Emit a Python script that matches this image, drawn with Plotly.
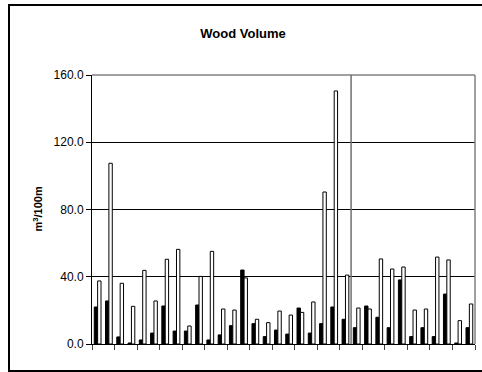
import plotly.graph_objects as go

categories = [str(i) for i in range(1, 35)]
series_a = [22.0, 25.6, 4.2, 0.6, 2.4, 6.5, 22.6, 7.7, 7.7, 23.2, 2.4, 5.4, 10.9, 44.0, 12.1, 4.4, 8.3,
            5.9, 21.4, 6.5, 12.1, 22.0, 14.7, 9.7, 22.6, 15.9, 9.7, 38.1, 4.4, 9.7, 4.4, 29.7, 0.6, 9.7]
series_b = [37.5, 107.5, 36.1, 22.4, 43.8, 25.6, 50.4, 56.3, 10.7, 40.2, 55.1, 20.8, 20.2, 39.3, 14.7, 12.7, 19.6,
            17.2, 18.8, 25.0, 90.4, 150.5, 41.0, 21.4, 20.8, 50.6, 44.6, 45.8, 20.2, 20.8, 51.7, 50.0, 13.9, 23.8]
y_ticks = [0, 40, 80, 120, 160]
y_tick_labels = ["0.0", "40.0", "80.0", "120.0", "160.0"]

W, H = 482, 372
L, R, T, B = 92, 7, 75, 28
pw, ph = W - L - R, H - T - B

def px_x(p):
    return (p - L) / pw

def px_y(p):
    return (H - B - p) / ph

fig = go.Figure()
fig.add_trace(go.Bar(x=categories, y=series_a, marker=dict(color="black", line=dict(color="black", width=1)),
                     showlegend=False))
fig.add_trace(go.Bar(x=categories, y=series_b, marker=dict(color="white", line=dict(color="black", width=1)),
                     showlegend=False))

font = "Liberation Sans, Arial, sans-serif"
fig.update_layout(
    width=W, height=H,
    margin=dict(l=L, r=R, t=T, b=B),
    paper_bgcolor="white", plot_bgcolor="white",
    barmode="group", bargap=0.4, bargroupgap=0.0,
    title=dict(text="<b>Wood Volume</b>", x=243 / W, xanchor="center", y=1 - 33 / H, yanchor="middle",
               font=dict(family=font, size=13, color="black")),
    font=dict(family=font, color="black"),
    xaxis=dict(type="category", showticklabels=False, ticks="outside", ticklen=5, tickcolor="#404040",
               tickson="boundaries", showline=True, linecolor="black", linewidth=1, showgrid=False,
               zeroline=False, range=[-0.5, 33.5]),
    yaxis=dict(range=[0, 160], tickvals=y_ticks, ticktext=y_tick_labels, ticks="outside", ticklen=5,
               tickcolor="black", showline=True, linecolor="black", linewidth=1, showgrid=True,
               gridcolor="black", gridwidth=1, zeroline=False,
               tickfont=dict(family=font, size=12, color="black")),
    annotations=[dict(text="<b>m<sup>3</sup>/100m</b>", xref="paper", yref="paper", x=px_x(37), y=0.5,
                      textangle=-90, showarrow=False, xanchor="center", yanchor="middle",
                      font=dict(family=font, size=11, color="black"))],
    shapes=[
        dict(type="line", xref="paper", yref="paper", x0=0, x1=1, y0=1, y1=1,
             line=dict(color="#808080", width=1.5)),
        dict(type="line", xref="paper", yref="paper", x0=1, x1=1, y0=0, y1=1,
             line=dict(color="#808080", width=1.5)),
        dict(type="line", xref="x", yref="y", x0=22.5, x1=22.5, y0=0, y1=161.2,
             line=dict(color="#707070", width=1.5)),
        dict(type="rect", xref="paper", yref="paper", x0=px_x(9), x1=px_x(490), y0=px_y(371), y1=px_y(5),
             line=dict(color="black", width=2)),
    ],
)

fig.write_html("out.html")
